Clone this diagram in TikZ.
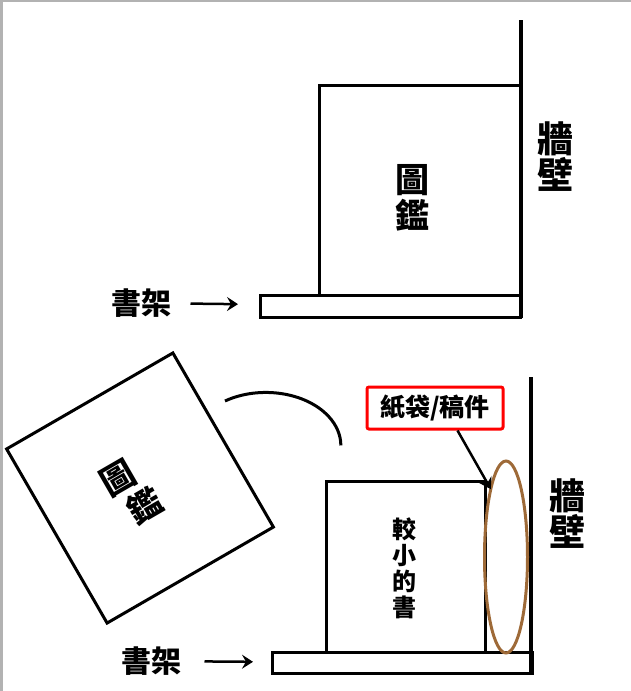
\documentclass[tikz,border=0pt]{standalone}
\usepackage{fontspec}
\newfontfamily\cjk{Noto Sans CJK TC}
\usetikzlibrary{arrows.meta}
\usetikzlibrary{shapes.geometric}
\definecolor{bagbrown}{RGB}{158,106,56}

\begin{document}
\begin{tikzpicture} [x=1pt, y=-1pt, line width=3pt,
  box/.style={draw, inner sep=0pt, outer sep=0pt},
  lbl/.style 2 args={font=\cjk\bfseries\fontsize{#1}{#2}\selectfont, align=center, inner sep=0pt},
  pointer/.style={-{Stealth[length=11pt, width=14pt, inset=4pt]}, line width=2.5pt}]
\fill[black!30] (0,0) rectangle (3,691);
\fill[black!30] (0,0) rectangle (631,1.5);
\useasboundingbox (0,0) rectangle (631,691);

% top: the book stands on the shelf
\node[box, minimum width=260pt, minimum height=22pt] (shelfA) at (390,306) {};
\node[box, minimum width=201pt, minimum height=210pt, anchor=south west] (bookA) at (319.5,295) {};
\draw[line width=4pt] (521,20) coordinate (wallA) -- (521,317.5);
\node[lbl={34}{36}] (titleA) at (412,198) {圖\\鑑};
\node[lbl={36}{36}] (wallAtxt) at (555,157) {牆\\壁};
\node[lbl={30}{30}] (shelfAtxt) at (141,303) {書架};
\draw[pointer, shorten <=18pt, shorten >=22pt] (shelfAtxt) -- (shelfA);

% bottom: the book falls over
\node[box, minimum width=260pt, minimum height=21pt] (shelfB) at (402,663) {};
\node[box, minimum width=159pt, minimum height=171.5pt, anchor=south west] (bookB) at (326.5,652.5) {};
\draw[line width=4pt] (531,377) coordinate (wallB) -- (531,674);
\node[lbl={24}{26}] (smallB) at (404,568) {較\\小\\的\\書};
\node[lbl={36}{36}] (wallBtxt) at (567,514) {牆\\壁};
\node[lbl={30}{30}] (shelfBtxt) at (151,661) {書架};
\draw[pointer, shorten <=22pt, shorten >=19pt] (shelfBtxt) -- (shelfB);
\node[draw=bagbrown, ellipse, inner sep=0pt, outer sep=0pt, minimum width=43pt, minimum height=192pt] (bag) at (506,557) {};
\node[draw=red, rounded corners=2pt, minimum width=136pt, minimum height=42pt, lbl={25}{25}] (tag) at (435,408) {紙袋/稿件};
\draw[pointer] (tag.-45) -- (bag.north west);
\node[box, minimum width=192pt, minimum height=201pt, rotate=30] (bookC) at (140,488) {};
\node[lbl={34}{34}, rotate=30] (titleC) at (118,478) {圖};
\node[lbl={34}{34}, rotate=30] (titleCb) at (145,505) {鑑};
\coordinate (swing) at (225,401);
\draw (swing) arc[start angle=-123, end angle=0, x radius=75, y radius=53];
\end{tikzpicture}
\end{document}
